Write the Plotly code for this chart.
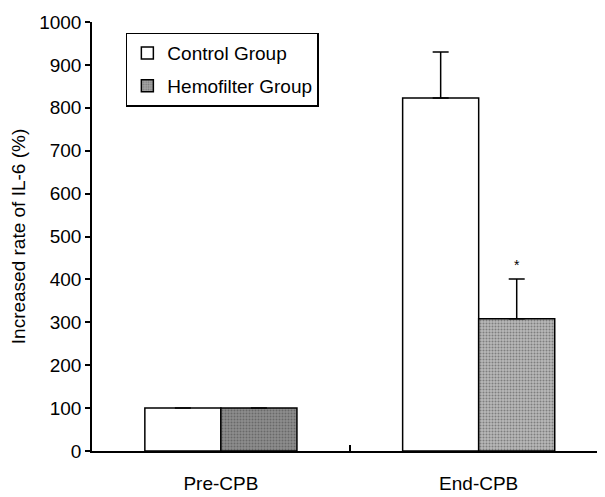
import plotly.graph_objects as go

categories = ["Pre-CPB", "End-CPB"]
control_values = [100, 823]
control_err = [None, 107]
hemo_values = [100, 308]
hemo_err = [None, 93]
y_ticks = list(range(0, 1001, 100))

bargap = 0.41
FS = 19

fig = go.Figure()
fig.add_trace(go.Bar(
    name="Control Group", x=categories, y=control_values,
    marker=dict(color="white", line=dict(color="black", width=1.5)),
    error_y=dict(type="data", symmetric=False, array=control_err,
                 arrayminus=[0, 0], color="black", thickness=1.5, width=8),
    legendgroup="a",
))
fig.add_trace(go.Bar(
    name="Hemofilter Group", x=categories, y=hemo_values,
    marker=dict(color=["#8e8e8e", "#b8b8b8"],
                line=dict(color="black", width=1.5),
                pattern=dict(shape=".", fgcolor=["#505050", "#7a7a7a"],
                             bgcolor=["#a6a6a6", "#c8c8c8"], size=3, solidity=0.35)),
    error_y=dict(type="data", symmetric=False, array=hemo_err,
                 arrayminus=[0, 0], color="black", thickness=1.5, width=8),
    legendgroup="b",
))

off = (1 - bargap) / 4
fig.add_annotation(x=1 + off, y=hemo_values[1] + hemo_err[1], text="*",
                   showarrow=False, yshift=14, xref="x", yref="y",
                   font=dict(size=14, color="black"))

fig.update_layout(
    width=597, height=489,
    margin=dict(l=84, r=0, t=14, b=46),
    paper_bgcolor="white", plot_bgcolor="white",
    barmode="group", bargap=bargap, bargroupgap=0,
    font=dict(family="Liberation Sans, Arial", size=FS, color="black"),
    showlegend=True,
    legend=dict(x=0.066, y=0.975, xanchor="left", yanchor="top",
                bordercolor="black", borderwidth=1.5, bgcolor="white",
                traceorder="grouped", tracegroupgap=5,
                font=dict(size=FS, color="black")),
    xaxis=dict(range=[-0.5, 1.49], showline=True, linecolor="black", linewidth=1.5,
               ticks="inside", tickson="boundaries", ticklen=6, tickcolor="black",
               tickwidth=1.5, showgrid=False, ticklabelstandoff=14,
               tickfont=dict(size=FS)),
    yaxis=dict(range=[0, 1000], tickvals=y_ticks, showline=True, linecolor="black",
               linewidth=1.5, ticks="outside", ticklen=5, tickcolor="black",
               tickwidth=1.5, showgrid=False, zeroline=False,
               title=dict(text="Increased rate of IL-6 (%)", standoff=12,
                          font=dict(size=FS)),
               tickfont=dict(size=FS)),
)

fig.write_html("out.html")
